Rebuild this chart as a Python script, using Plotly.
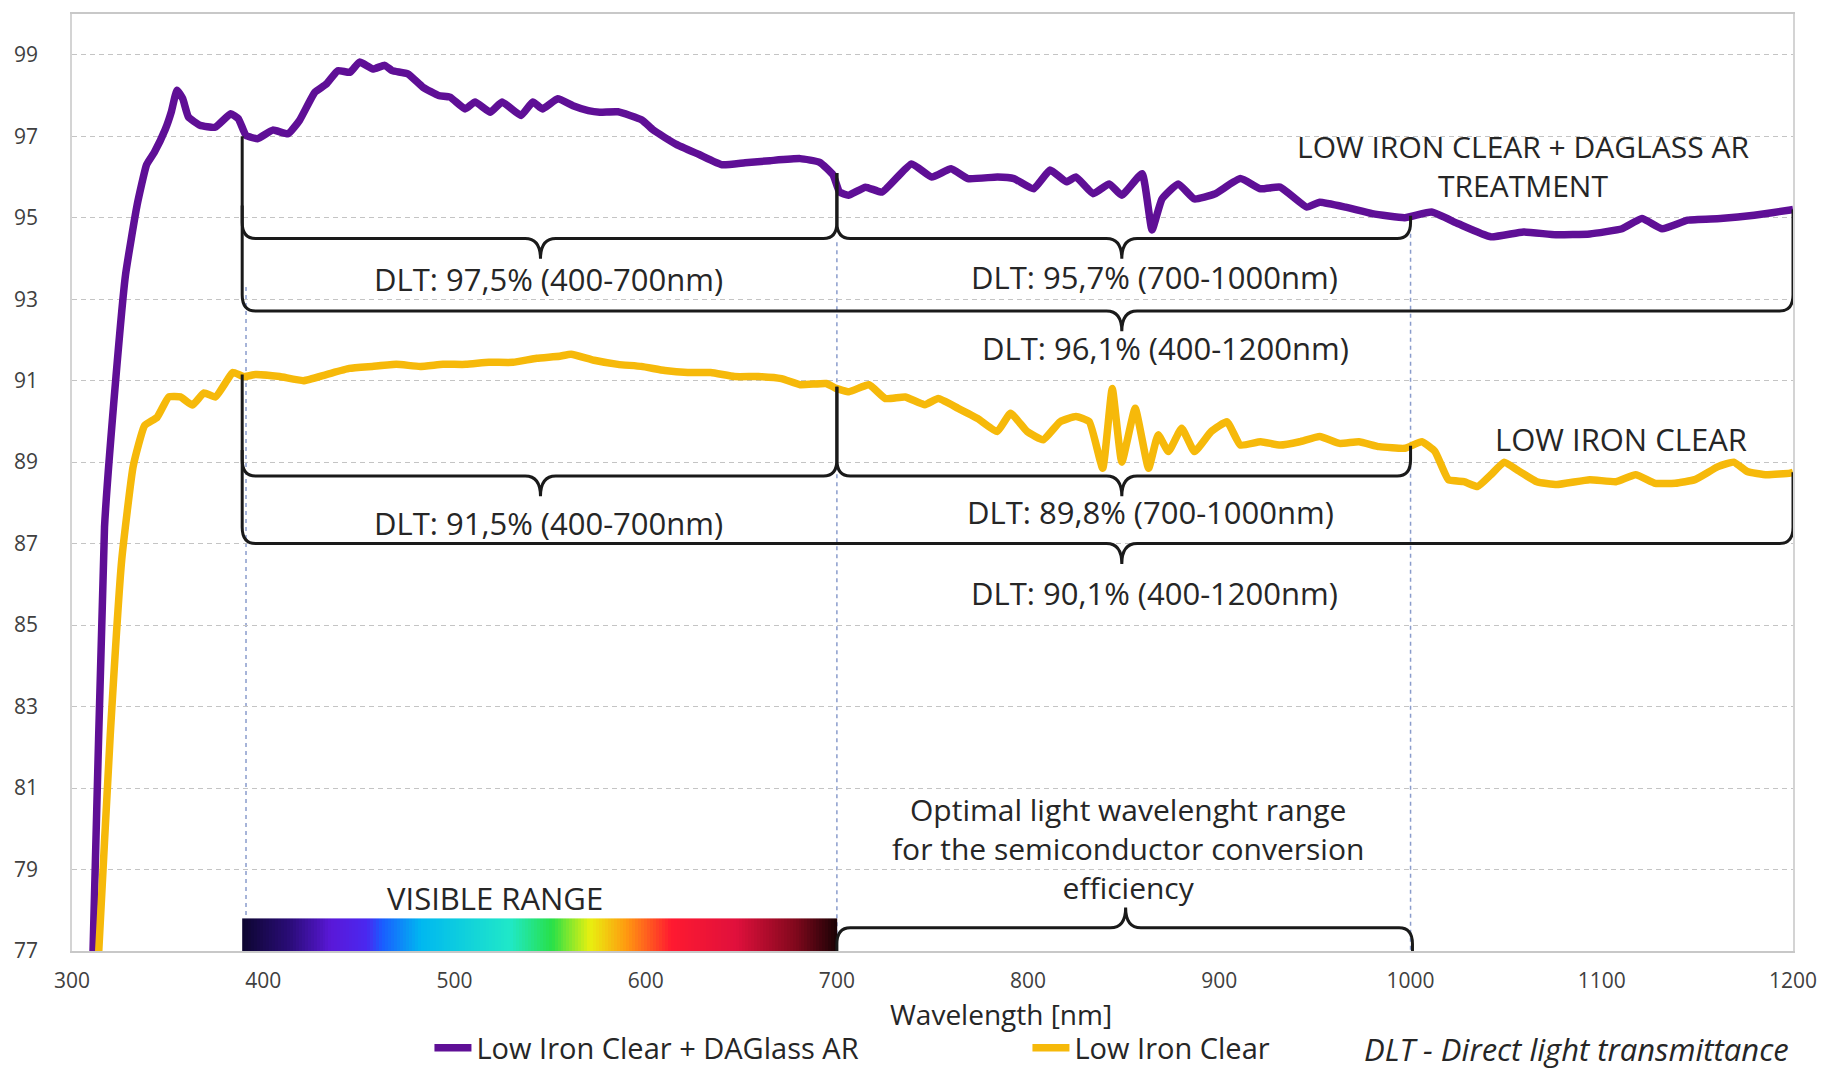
import numpy as np
import plotly.graph_objects as go

# ---------------- spectral transmittance data ----------------
ar_wl = [307, 311, 317, 323, 328, 334, 339, 343, 348.8, 351.9, 354.9, 357.9, 360.9,
         366.9, 374.8, 383, 387, 391, 397, 405, 413, 419, 427, 433, 439, 445.4, 450.4,
         457.4, 463.5, 467.4, 475.6, 483.6, 491.7, 497.7, 505.6, 510.8, 518.8, 524.9,
         534.8, 541, 546, 554, 562, 570, 576, 585.5, 598, 604, 616, 628, 640, 652, 665,
         680.8, 691, 698, 701.4, 706, 715, 723.6, 739, 749.6, 759.7, 768.5, 784, 792.6,
         802.9, 811.5, 820, 825, 834, 842.4, 849, 859.6, 864.8, 870, 878.5, 887, 897.5,
         911, 921.6, 931.8, 945.7, 952.5, 966, 980, 997, 1011, 1025, 1042, 1059, 1076,
         1093.7, 1110.6, 1121, 1131.6, 1145, 1162, 1179.7, 1198.6, 1200]
ar_t = [73.5, 77.0, 87.4, 91.1, 93.6, 95.3, 96.3, 96.6, 97.17, 97.59, 98.13, 97.92, 97.47,
        97.27, 97.22, 97.55, 97.43, 97.02, 96.94, 97.15, 97.06, 97.39, 98.08, 98.28, 98.61,
        98.57, 98.82, 98.65, 98.74, 98.61, 98.53, 98.2, 98.0, 97.96, 97.67, 97.84, 97.59,
        97.84, 97.51, 97.84, 97.67, 97.92, 97.75, 97.63, 97.59, 97.6, 97.4, 97.15, 96.8,
        96.55, 96.3, 96.35, 96.4, 96.45, 96.36, 96.05, 95.63, 95.55, 95.75, 95.63, 96.32,
        96.0, 96.2, 95.96, 96.0, 95.96, 95.71, 96.17, 95.88, 96.0, 95.59, 95.83, 95.55,
        96.08, 94.7, 95.46, 95.83, 95.46, 95.58, 95.96, 95.71, 95.75, 95.26, 95.38, 95.26,
        95.1, 95.0, 95.14, 94.85, 94.53, 94.65, 94.58, 94.6, 94.73, 94.98, 94.73, 94.94,
        94.98, 95.06, 95.19, 95.2]

clear_wl = [310, 314, 320, 326, 332, 338, 344.5, 350.6, 356.7, 363, 369, 375, 381, 384, 390,
            396, 408.6, 421, 433, 445, 457, 469.6, 482, 494, 506, 518, 530.6, 543, 555, 561,
            573, 585.5, 597.7, 610, 622, 634, 646.5, 659, 671, 680.8, 694.4, 699.6, 706.4,
            716.8, 725.4, 735.7, 746, 753, 763.4, 773.6, 783.8, 790.8, 799.5, 807.9, 816.7,
            825, 832, 839, 844, 849, 856, 863, 868, 873.4, 880.3, 887, 895.7, 904, 911,
            921.6, 931.8, 942, 952.5, 962.9, 973, 983.6, 997, 1005.9, 1012.8, 1019.8, 1028,
            1035, 1042, 1049, 1056, 1066, 1076.5, 1093.7, 1107.4, 1117.7, 1128, 1138.4,
            1148.7, 1160.8, 1169, 1176, 1186.4, 1198.5, 1200]
clear_t = [73.5, 77.0, 82.3, 86.6, 88.9, 89.9, 90.1, 90.6, 90.6, 90.4, 90.7, 90.6, 91.0, 91.2,
           91.1, 91.15, 91.1, 91.0, 91.15, 91.3, 91.35, 91.4, 91.35, 91.4, 91.4, 91.45, 91.45,
           91.55, 91.6, 91.65, 91.5, 91.4, 91.35, 91.25, 91.2, 91.2, 91.1, 91.1, 91.05, 90.9,
           90.93, 90.81, 90.73, 90.9, 90.56, 90.6, 90.41, 90.56, 90.32, 90.07, 89.75, 90.2,
           89.75, 89.55, 89.99, 90.12, 89.99, 88.85, 90.81, 89.0, 90.32, 88.85, 89.67, 89.26,
           89.83, 89.26, 89.75, 89.99, 89.42, 89.5, 89.42, 89.5, 89.63, 89.46, 89.5, 89.38,
           89.34, 89.5, 89.26, 88.57, 88.52, 88.4, 88.69, 89.0, 88.8, 88.52, 88.45, 88.57,
           88.52, 88.69, 88.48, 88.48, 88.57, 88.89, 89.0, 88.77, 88.69, 88.73, 88.75]

series_names = ["Low Iron Clear + DAGlass AR", "Low Iron Clear"]
series_colors = ["#5f0f96", "#f6b90a"]

# Axis ticks
x_ticks = [300, 400, 500, 600, 700, 800, 900, 1000, 1100, 1200]
y_ticks = [77, 79, 81, 83, 85, 87, 89, 91, 93, 95, 97, 99]

# DLT summary labels: (text, wavelength, transmittance level)
dlt_labels = [
    ("DLT: 97,5% (400-700nm)", 549, 93.5),
    ("DLT: 95,7% (700-1000nm)", 866, 93.55),
    ("DLT: 96,1% (400-1200nm)", 872, 91.8),
    ("DLT: 91,5% (400-700nm)", 549, 87.5),
    ("DLT: 89,8% (700-1000nm)", 864, 87.78),
    ("DLT: 90,1% (400-1200nm)", 866, 85.8),
]

# Curly braces: (start, end, tip, level, left end, right end, opening direction)
braces = [
    (389, 700, 545, 94.49, 95.3, 96.1, 1),
    (700, 1000, 849, 94.49, 96.1, 95.05, 1),
    (389, 1200, 849, 92.71, 97.0, 95.2, 1),
    (389, 700, 545, 88.66, 89.3, 90.85, 1),
    (700, 1000, 849, 88.66, 90.85, 89.4, 1),
    (389, 1200, 849, 87.0, 91.15, 88.75, 1),
    (700, 1001, 851, 77.57, 77.0, 77.0, -1),
]

# Reference wavelength markers: (wavelength, top, bottom)
markers = [(391, 93.3, 77), (700, 94.4, 77), (1000, 95.0, 77)]

# Visible spectrum band
vis_start, vis_end = 389, 700
vis_stops = [
    (0.00, "#0d0630"), (0.08, "#2a0c78"), (0.15, "#5a18d8"), (0.21, "#4a28f0"),
    (0.235, "#1a5cff"), (0.30, "#00b8f0"), (0.45, "#20e8c8"), (0.52, "#28e048"),
    (0.585, "#e8f010"), (0.645, "#ff9a10"), (0.72, "#ff1a30"), (0.83, "#e0103c"),
    (0.93, "#80081c"), (1.00, "#1a0205"),
]

FONT = "Open Sans"
TXT = "#262626"

fig = go.Figure()

# spectrum band as a one-row heatmap
edges = np.linspace(vis_start, vis_end, 201)
centers = (edges[:-1] + edges[1:]) / 2
fig.add_trace(go.Heatmap(
    x=edges, y=[77.0, 77.8], z=[centers.tolist()],
    colorscale=[[p, c] for p, c in vis_stops], zmin=vis_start, zmax=vis_end,
    showscale=False, hoverinfo="skip", showlegend=False,
))

for name, wl, t, col in [(series_names[0], ar_wl, ar_t, series_colors[0]),
                         (series_names[1], clear_wl, clear_t, series_colors[1])]:
    fig.add_trace(go.Scatter(
        x=wl, y=t, mode="lines", name=name,
        line=dict(color=col, width=7.5, shape="spline", smoothing=0.4),
    ))


def brace_path(x0, x1, xt, yl, ytop0, ytop1, s):
    cx, cy = 7.0, 0.4
    tx, ty = 8.0, 0.5
    c0 = min(cy, abs(ytop0 - yl))
    c1 = min(cy, abs(ytop1 - yl))
    return (f"M {x0},{ytop0} L {x0},{yl + s * c0} Q {x0},{yl} {x0 + cx},{yl} "
            f"L {xt - tx},{yl} Q {xt},{yl} {xt},{yl - s * ty} "
            f"Q {xt},{yl} {xt + tx},{yl} L {x1 - cx},{yl} "
            f"Q {x1},{yl} {x1},{yl + s * c1} L {x1},{ytop1}")


shapes = []
for xm, y0, y1 in markers:
    shapes.append(dict(type="line", xref="x", yref="y", x0=xm, x1=xm, y0=y0, y1=y1,
                       line=dict(color="#8a9ccc", width=1.5, dash="4px,4px"), layer="below"))
for b in braces:
    shapes.append(dict(type="path", xref="x", yref="y", path=brace_path(*b),
                       line=dict(color="#1a1a1a", width=3)))


def note(text, x, y, size, ref="x"):
    yref = "y" if ref == "x" else "paper"
    return dict(x=x, y=y, xref=ref, yref=yref, text=text, showarrow=False,
                xanchor="center", yanchor="middle", align="center",
                font=dict(family=FONT, size=size, color=TXT))


annotations = [note(t, xv, yv, 31) for t, xv, yv in dlt_labels]
annotations += [
    note("LOW IRON CLEAR + DAGLASS AR<br>TREATMENT", 1059, 96.26, 30),
    note("LOW IRON CLEAR", 1110, 89.57, 31),
    note("Optimal light wavelenght range<br>for the semiconductor conversion<br>efficiency",
         852, 79.52, 30),
    note("VISIBLE RANGE", 521, 78.3, 31),
    note("Wavelength [nm]", 0.54, -0.0671, 28, ref="paper"),
    note("<i>DLT - Direct light transmittance</i>", 0.874, -0.1044, 31, ref="paper"),
]

fig.update_layout(
    width=1829, height=1073,
    margin=dict(l=72, r=36, t=12, b=122),
    paper_bgcolor="white", plot_bgcolor="white",
    font=dict(family=FONT, color=TXT),
    shapes=shapes, annotations=annotations,
    showlegend=True,
    legend=dict(orientation="h", x=0.2077, y=0.0233, xanchor="left", yanchor="middle",
                yref="container", itemwidth=37,
                entrywidth=546, entrywidthmode="pixels",
                font=dict(family=FONT, size=29, color=TXT), bgcolor="rgba(0,0,0,0)"),
    xaxis=dict(range=[300, 1200], tickvals=x_ticks, showgrid=False, zeroline=False,
               showline=True, linecolor="#c8c8c8", linewidth=1.5, mirror=True,
               ticks="", ticklabelstandoff=10,
               tickfont=dict(family=FONT, size=21, color="#404040")),
    yaxis=dict(range=[77, 100], tickvals=y_ticks, showgrid=True, gridcolor="#c4c4c4",
               griddash="5px,4px", gridwidth=1, zeroline=False,
               showline=True, linecolor="#d4d4d4", linewidth=1.5, mirror=True,
               ticks="", ticklabelstandoff=28,
               tickfont=dict(family=FONT, size=21, color="#404040")),
)

fig.write_html("out.html")
